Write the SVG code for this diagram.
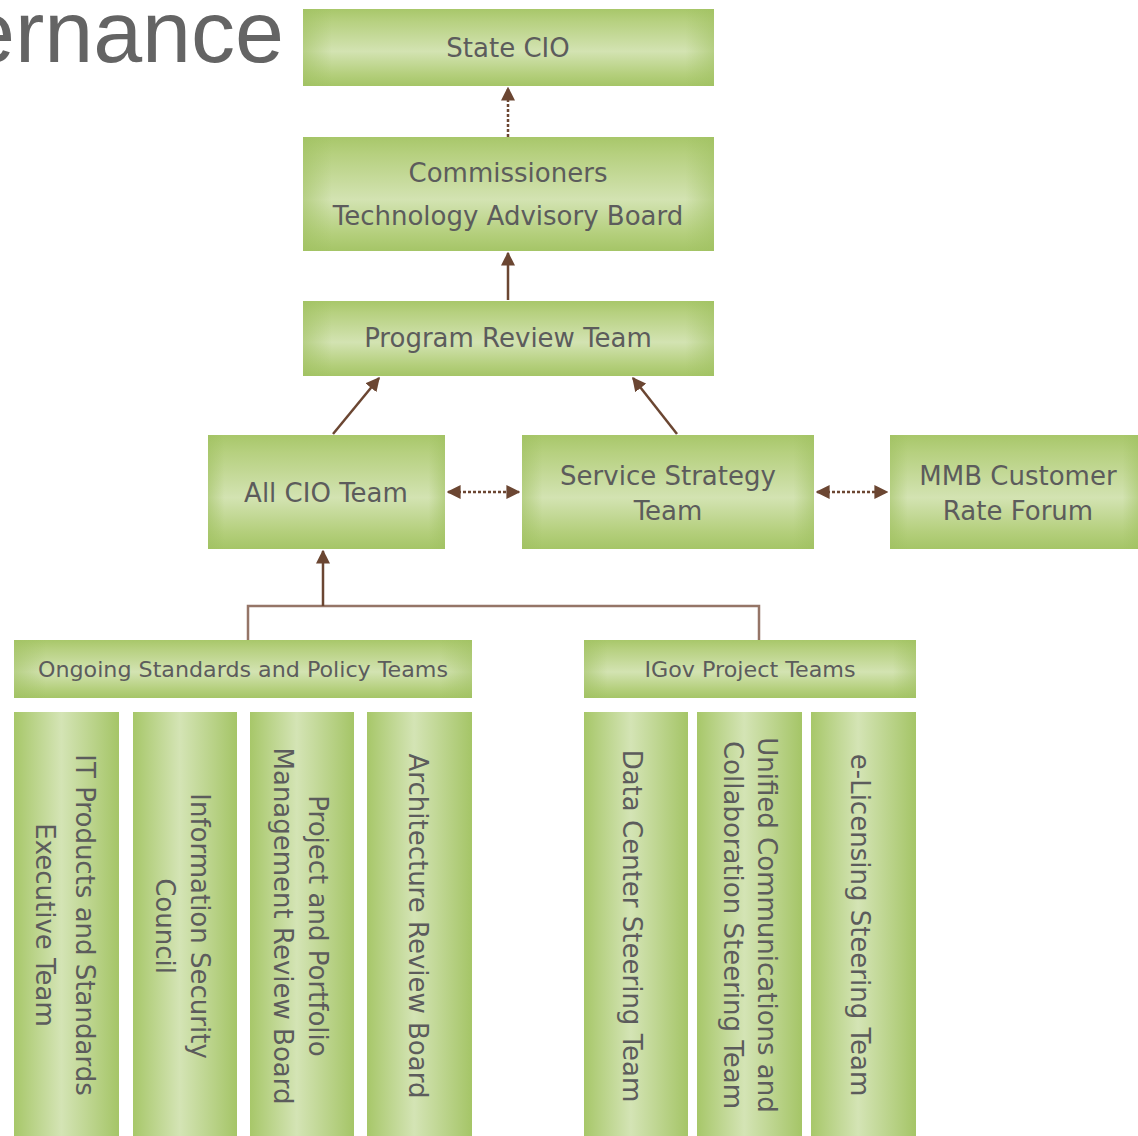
<svg xmlns="http://www.w3.org/2000/svg" width="1138" height="1136" viewBox="0 0 1138 1136">
<defs>
<linearGradient id="gh" x1="0" y1="0" x2="0" y2="1">
<stop offset="0" stop-color="#a8c76a"/>
<stop offset="0.15" stop-color="#b6d07f"/>
<stop offset="0.55" stop-color="#d3e3b2"/>
<stop offset="0.85" stop-color="#b4cf7c"/>
<stop offset="1" stop-color="#a5c567"/>
</linearGradient>
<linearGradient id="ge" x1="0" y1="0" x2="1" y2="0">
<stop offset="0" stop-color="#9fc060" stop-opacity="0.55"/>
<stop offset="0.07" stop-color="#9fc060" stop-opacity="0"/>
<stop offset="0.93" stop-color="#9fc060" stop-opacity="0"/>
<stop offset="1" stop-color="#9fc060" stop-opacity="0.55"/>
</linearGradient>
<linearGradient id="gv" x1="0" y1="0" x2="1" y2="0">
<stop offset="0" stop-color="#a7c769"/>
<stop offset="0.45" stop-color="#d4e4b5"/>
<stop offset="1" stop-color="#a5c567"/>
</linearGradient>
<marker id="ah" viewBox="0 0 10 10" refX="9" refY="5" markerWidth="14" markerHeight="14" markerUnits="userSpaceOnUse" orient="auto-start-reverse">
<path d="M0,0 L10,5 L0,10 Z" fill="#6b4632"/>
</marker>
</defs>
<style>
.bh{fill:url(#gh);}
.be{fill:url(#ge);}
.bv{fill:url(#gv);}
.t{font-family:"DejaVu Sans","Liberation Sans",sans-serif;font-size:26px;fill:#5c5c5c;text-anchor:middle;}
.ts{font-size:21px;}
.c{stroke:#6b4632;stroke-width:2.5;fill:none;}
.d{stroke-dasharray:3 2;}
.tree{stroke:#957567;stroke-width:2.5;fill:none;}
</style>
<rect width="1138" height="1136" fill="#ffffff"/>
<text x="284" y="62" font-family="'Liberation Sans',Arial,sans-serif" font-size="88" fill="#646464" text-anchor="end">ernance</text>

<g id="connectors">
<line class="c d" x1="508" y1="137" x2="508" y2="88" marker-end="url(#ah)"/>
<line class="c" x1="508" y1="300" x2="508" y2="253" marker-end="url(#ah)"/>
<line class="c" x1="333" y1="434" x2="379" y2="378" marker-end="url(#ah)"/>
<line class="c" x1="677" y1="434" x2="633" y2="378" marker-end="url(#ah)"/>
<line class="c d" x1="448" y1="492" x2="519" y2="492" marker-start="url(#ah)" marker-end="url(#ah)"/>
<line class="c d" x1="817" y1="492" x2="887" y2="492" marker-start="url(#ah)" marker-end="url(#ah)"/>
<polyline class="tree" points="248,640 248,606 759,606 759,640"/>
<line class="c" x1="323" y1="606" x2="323" y2="551" marker-end="url(#ah)"/>
</g>

<g id="n-state-cio">
<rect class="bh" x="303" y="9" width="411" height="77"/><rect class="be" x="303" y="9" width="411" height="77"/>
<text class="t" x="508" y="57">State CIO</text>
</g>
<g id="n-ctab">
<rect class="bh" x="303" y="137" width="411" height="114"/><rect class="be" x="303" y="137" width="411" height="114"/>
<text class="t" x="508" y="182">Commissioners</text>
<text class="t" x="508" y="225">Technology Advisory Board</text>
</g>
<g id="n-prt">
<rect class="bh" x="303" y="301" width="411" height="75"/><rect class="be" x="303" y="301" width="411" height="75"/>
<text class="t" x="508" y="347">Program Review Team</text>
</g>
<g id="n-allcio">
<rect class="bh" x="208" y="435" width="237" height="114"/><rect class="be" x="208" y="435" width="237" height="114"/>
<text class="t" x="326" y="502">All CIO Team</text>
</g>
<g id="n-sst">
<rect class="bh" x="522" y="435" width="292" height="114"/><rect class="be" x="522" y="435" width="292" height="114"/>
<text class="t" x="668" y="485">Service Strategy</text>
<text class="t" x="668" y="520">Team</text>
</g>
<g id="n-mmb">
<rect class="bh" x="890" y="435" width="250" height="114"/><rect class="be" x="890" y="435" width="250" height="114"/>
<text class="t" x="1018" y="485">MMB Customer</text>
<text class="t" x="1018" y="520">Rate Forum</text>
</g>
<g id="n-ongoing">
<rect class="bh" x="14" y="640" width="458" height="58"/><rect class="be" x="14" y="640" width="458" height="58"/>
<text class="t ts" x="243" y="677" textLength="410" lengthAdjust="spacingAndGlyphs">Ongoing Standards and Policy Teams</text>
</g>
<g id="n-igov">
<rect class="bh" x="584" y="640" width="332" height="58"/><rect class="be" x="584" y="640" width="332" height="58"/>
<text class="t ts" x="750" y="677" textLength="211" lengthAdjust="spacingAndGlyphs">IGov Project Teams</text>
</g>

<g id="n-itpset">
<rect class="bv" x="14" y="712" width="105" height="430"/>
<text class="t" transform="translate(85,925) rotate(90)" y="9">IT Products and Standards</text>
<text class="t" transform="translate(45,925) rotate(90)" y="9">Executive Team</text>
</g>
<g id="n-isc">
<rect class="bv" x="133" y="712" width="104" height="430"/>
<text class="t" transform="translate(200,926) rotate(90)" y="9">Information Security</text>
<text class="t" transform="translate(165,926) rotate(90)" y="9">Council</text>
</g>
<g id="n-ppmrb">
<rect class="bv" x="250" y="712" width="104" height="430"/>
<text class="t" transform="translate(318,926) rotate(90)" y="9">Project and Portfolio</text>
<text class="t" transform="translate(283,926) rotate(90)" y="9">Management Review Board</text>
</g>
<g id="n-arb">
<rect class="bv" x="367" y="712" width="105" height="430"/>
<text class="t" transform="translate(418,926) rotate(90)" y="9">Architecture Review Board</text>
</g>
<g id="n-dcst">
<rect class="bv" x="584" y="712" width="104" height="430"/>
<text class="t" transform="translate(632,926) rotate(90)" y="9">Data Center Steering Team</text>
</g>
<g id="n-ucc">
<rect class="bv" x="697" y="712" width="105" height="430"/>
<text class="t" transform="translate(767,925) rotate(90)" y="9">Unified Communications and</text>
<text class="t" transform="translate(733,925) rotate(90)" y="9">Collaboration Steering Team</text>
</g>
<g id="n-elic">
<rect class="bv" x="811" y="712" width="105" height="430"/>
<text class="t" transform="translate(860,925) rotate(90)" y="9">e-Licensing Steering Team</text>
</g>
</svg>
